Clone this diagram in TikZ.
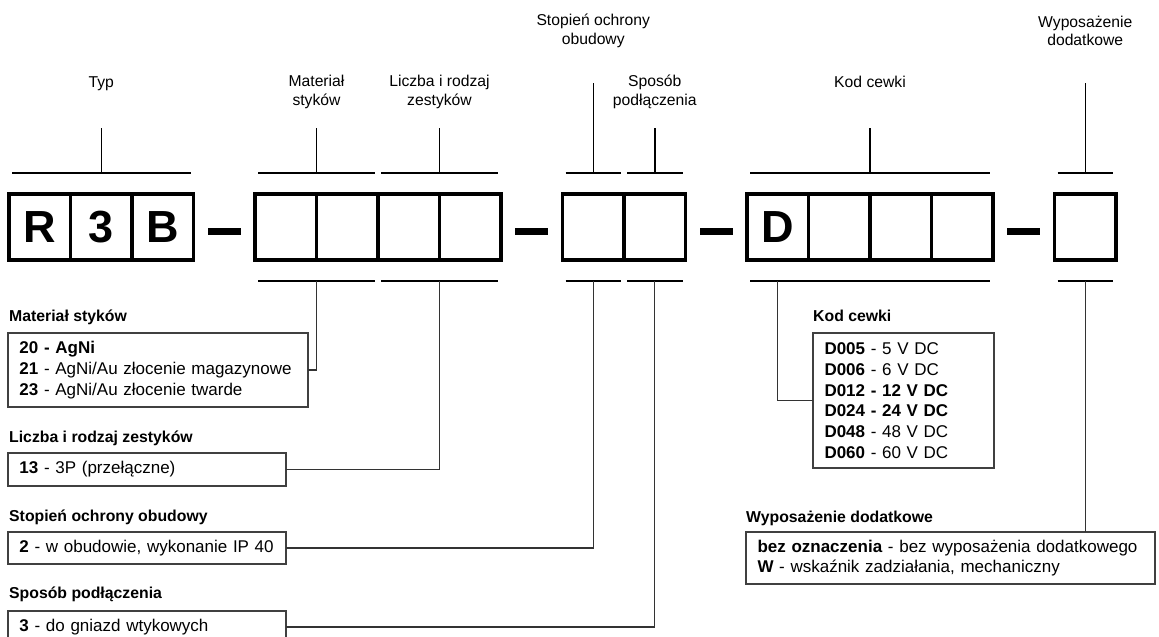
\documentclass[tikz,border=0pt]{standalone}
\usepackage{fontspec}
\setmainfont{Liberation Sans}
\usepackage{tikz}
\usetikzlibrary{calc}
\newcommand{\spanbar}[4]{%
    \draw[spanline] ([xshift=3pt]#2.west |- 0,#4) -- ([xshift=-3pt]#3.east |- 0,#4);
    \coordinate (#1) at ($(#2.west |- 0,#4)!0.5!(#3.east |- 0,#4)$);
}

\begin{document}
\begin{tikzpicture}[x=1pt,y=-1pt,
    digit/.style={draw,line width=3.2pt,minimum width=61.5pt,minimum height=66pt,inner sep=0pt,outer sep=0pt,font=\fontsize{45}{50}\selectfont\bfseries},
    minusbar/.style={fill,minimum width=33pt,minimum height=7pt,inner sep=0pt},
    spanline/.style={line width=2pt},
    stem/.style={line width=1.5pt},
    link/.style={line width=1.1pt,black!80},
    toplabel/.style={align=center,inner sep=0pt,font=\fontsize{15.7}{18.5}\selectfont},
    heading/.style={anchor=base west,inner sep=0pt,font=\fontsize{15.8}{19}\selectfont\bfseries},
    infobox/.style={draw=black!75,line width=1.2pt,anchor=north west,inner xsep=11.5pt,inner ysep=0pt,outer sep=0pt,align=left,font=\fontsize{17}{20.7}\selectfont}]
    \useasboundingbox (0,0) rectangle (1159,637);

    \foreach \i/\t in {0/R,1/3,2/B,4/{},5/{},6/{},7/{},9/{},10/{},12/D,13/{},14/{},15/{},17/{}}
        \node[digit] (c\i) at (39.75+61.5*\i,227) {\t};
    \foreach \i in {3,8,11,16}
        \node[minusbar] (d\i) at (39.75+61.5*\i,231) {};

    \spanbar{typtop}{c0}{c2}{173}
    \spanbar{mattop}{c4}{c5}{173}
    \spanbar{licztop}{c6}{c7}{173}
    \spanbar{stoptop}{c9}{c9}{173}
    \spanbar{spostop}{c10}{c10}{173}
    \spanbar{kodtop}{c12}{c15}{173}
    \spanbar{wyptop}{c17}{c17}{173}

    \spanbar{matbot}{c4}{c5}{281}
    \spanbar{liczbot}{c6}{c7}{281}
    \spanbar{stopbot}{c9}{c9}{281}
    \spanbar{sposbot}{c10}{c10}{281}
    \spanbar{kodspan}{c12}{c15}{281}
    \spanbar{wypbot}{c17}{c17}{281}
    \coordinate (kodbot) at (c12 |- kodspan);

    \draw[stem] (typtop) -- (typtop |- 0,128);
    \draw[stem] (mattop) -- (mattop |- 0,128);
    \draw[stem] (licztop) -- (licztop |- 0,128);
    \draw[stem] (stoptop) -- (stoptop |- 0,83);
    \draw[stem] (spostop) -- (spostop |- 0,128);
    \draw[stem] (kodtop) -- (kodtop |- 0,128);
    \draw[stem] (wyptop) -- (wyptop |- 0,83);

    \node[toplabel] (typlab) at (typtop |- 0,84) {Typ};
    \node[toplabel] (matlab) at (mattop |- 0,92) {Materiał\\styków};
    \node[toplabel] (liczlab) at (licztop |- 0,92) {Liczba i rodzaj\\zestyków};
    \node[toplabel] (stoplab) at (stoptop |- 0,31) {Stopień ochrony\\obudowy};
    \node[toplabel] (sposlab) at (spostop |- 0,92) {Sposób\\podłączenia};
    \node[toplabel] (kodlab) at (kodtop |- 0,82) {Kod cewki};
    \node[toplabel] (wyplab) at (wyptop |- 0,31) {Wyposażenie\\dodatkowe};

    % opisy
    \node[heading] (mathead) at (9,321.5) {Materiał styków};
    \node[infobox,text width=277pt,minimum height=74pt] (matbox) at (8,333) {\mbox{\textbf{20 - AgNi}}\\
        \mbox{\textbf{21} - AgNi/Au złocenie magazynowe}\\
        \mbox{\textbf{23} - AgNi/Au złocenie twarde}};
    \node[heading] (liczhead) at (9,442.5) {Liczba i rodzaj zestyków};
    \node[infobox,text width=255pt,minimum height=33pt] (liczbox) at (8,453) {\mbox{\textbf{13} - 3P (przełączne)}};
    \node[heading] (stophead) at (9,521.5) {Stopień ochrony obudowy};
    \node[infobox,text width=255pt,minimum height=32pt] (stopbox) at (8,532) {\mbox{\textbf{2} - w obudowie, wykonanie IP 40}};
    \node[heading] (sposhead) at (9,598.5) {Sposób podłączenia};
    \node[infobox,text width=255pt,minimum height=32pt] (sposbox) at (8,611) {\mbox{\textbf{3} - do gniazd wtykowych}};

    \node[heading] (kodhead) at (813,321.5) {Kod cewki};
    \node[infobox,text width=158pt,minimum height=135pt] (kodbox) at (813,333) {\textbf{D005} - 5 V DC\\
        \textbf{D006} - 6 V DC\\
        \textbf{D012 - 12 V DC}\\
        \textbf{D024 - 24 V DC}\\
        \textbf{D048} - 48 V DC\\
        \textbf{D060} - 60 V DC};
    \node[heading] (wyphead) at (746,522.5) {Wyposażenie dodatkowe};
    \node[infobox,text width=386pt,minimum height=52pt] (wypbox) at (746,532) {\mbox{\textbf{bez oznaczenia} - bez wyposażenia dodatkowego}\\
        \mbox{\textbf{W} - wskaźnik zadziałania, mechaniczny}};

    \draw[link] (matbox.east) -| (matbot);
    \draw[link] (liczbox.east) -| (liczbot);
    \draw[link] (stopbox.east) -| (stopbot);
    \draw[link] (sposbox.east) -| (sposbot);
    \draw[link] (kodbot) |- (kodbox.west);
    \draw[link] (wypbot) -- (wypbot |- wypbox.north);
\end{tikzpicture}
\end{document}
